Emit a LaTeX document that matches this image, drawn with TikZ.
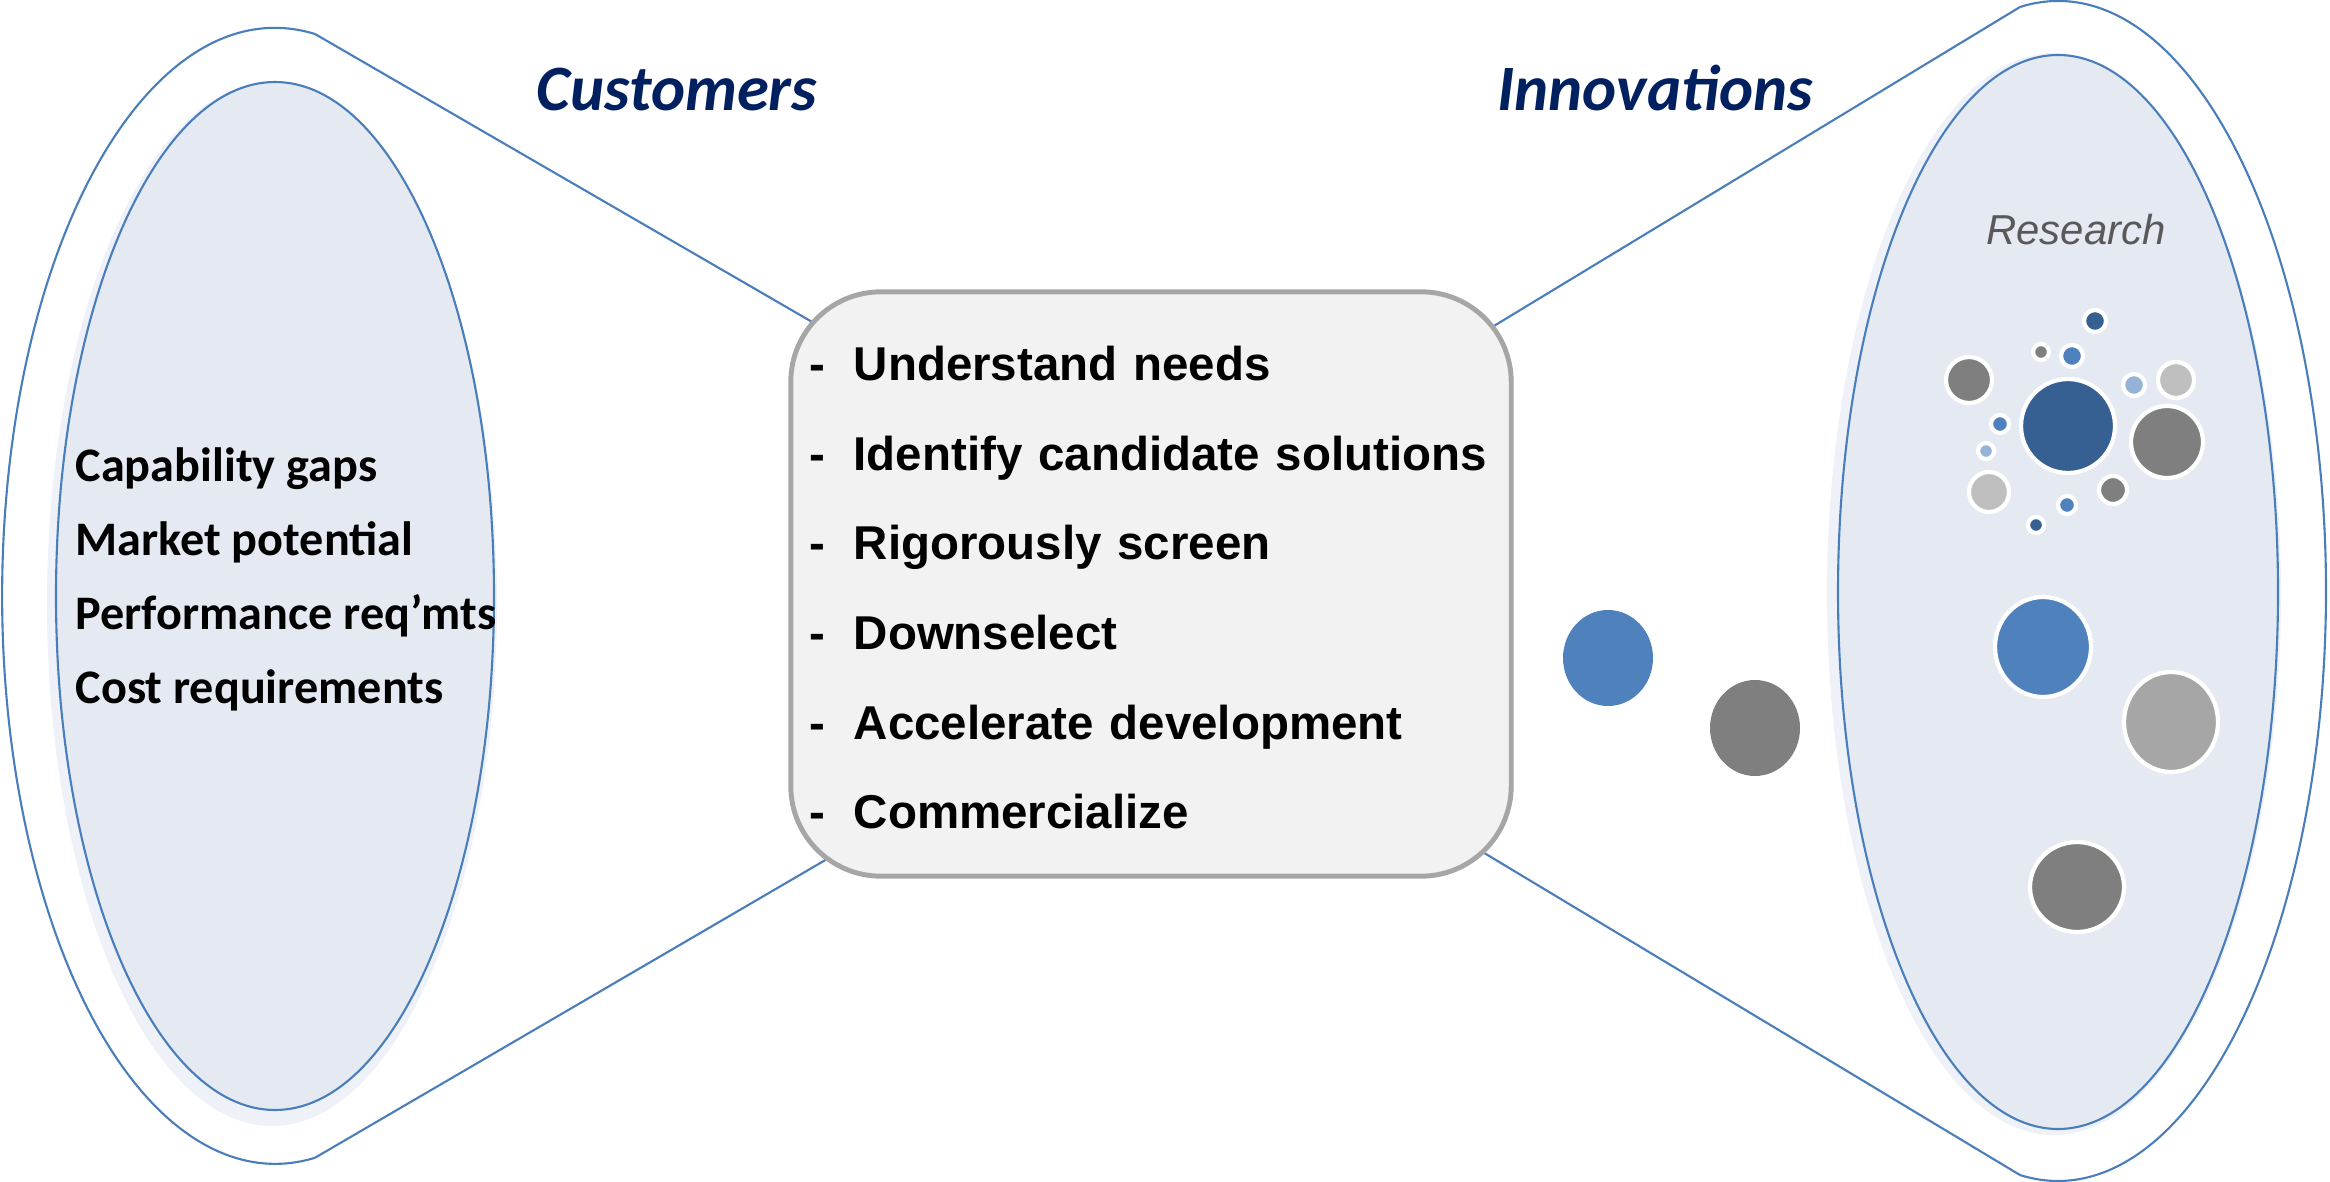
\documentclass[tikz,border=0pt]{standalone}
\usepackage{fontspec}
\setmainfont{Liberation Sans}
\newfontfamily\calibri{Carlito}
\usetikzlibrary{calc,backgrounds}

\definecolor{funnelblue}{HTML}{4A7EBB}
\definecolor{navy}{HTML}{002060}
\definecolor{ovalfill}{HTML}{E4E9F2}
\definecolor{ovalglow}{HTML}{EEF1F8}
\definecolor{boxfill}{HTML}{F2F2F2}
\definecolor{boxline}{HTML}{A6A6A6}
\definecolor{darkblue}{HTML}{376092}
\definecolor{midblue}{HTML}{4F81BD}
\definecolor{lightblue}{HTML}{95B3D7}
\definecolor{midgray}{HTML}{7F7F7F}
\definecolor{lightgray}{HTML}{BFBFBF}
\definecolor{silver}{HTML}{A6A6A6}
\definecolor{textgray}{HTML}{595959}

\tikzset{
  funnel/.style={draw=funnelblue, line width=0.6pt},
  oval/.style={draw=funnelblue, line width=0.6pt, fill=ovalfill},
  heading/.style={font=\calibri\bfseries\itshape\fontsize{18.4}{22}\selectfont, text=navy, inner sep=0},
  stepbox/.style={draw=boxline, fill=boxfill, line width=1.4pt, rounded corners=0.9cm,
    minimum height=5.84cm, text width=6.82cm, inner xsep=0.19cm, align=left,
    font=\bfseries\fontsize{13.5}{25.5}\selectfont},
  bubble/.style={fill=#1, draw=white, line width=1.2pt},
}
\newcommand{\stepline}[1]{\makebox[12.5pt][l]{-}#1}

\begin{document}
\begin{tikzpicture}[x=0.01cm, y=-0.01cm]
\useasboundingbox (0,0) rectangle (2330,1182);

\coordinate (cust) at (275,596);
\fill[ovalglow] ($(cust)+(-3,8)$) ellipse [x radius=225, y radius=522];
\draw[oval] (cust) ellipse [x radius=219, y radius=514];
\draw[funnel] (315,34) coordinate (custTop)
  arc [start angle=-81.6, end angle=-278.4, x radius=273, y radius=568] coordinate (custBot);

\coordinate (inno) at (2058,592);
\fill[ovalglow] ($(inno)+(-4,2)$) ellipse [x radius=227, y radius=541];
\draw[oval] (inno) ellipse [x radius=220, y radius=537];
\draw[funnel] (2020,7) coordinate (innoTop)
  arc [start angle=-98.15, end angle=98.15, x radius=268, y radius=590] coordinate (innoBot);

\node[stepbox] (steps) at (1151,584) {\rule{0pt}{11.8pt}\stepline{Understand needs}\\
  \stepline{Identify candidate solutions}\\
  \stepline{Rigorously screen}\\
  \stepline{Downselect}\\
  \stepline{Accelerate development}\\
  \stepline{Commercialize}};

\begin{scope}[on background layer]
\draw[funnel] (custTop) -- ($(steps.north west)+(40,42)$);
\draw[funnel] (custBot) -- ($(steps.south west)+(60,-32)$);
\draw[funnel] (innoTop) -- ($(steps.north east)+(-60,61)$);
\draw[funnel] (innoBot) -- ($(steps.south east)+(-60,-44)$);
\end{scope}

\node[heading, anchor=base] (custLabel) at (677,111) {Customers};
\node[heading, anchor=base] (innoLabel) at (1655,111) {Innovations};

\node[anchor=north west, inner sep=0, align=left,
  font=\calibri\bfseries\fontsize{13.7}{21}\selectfont] (needs) at (75,447)
  {Capability gaps\\Market potential\\Performance req’mts\\Cost requirements};

\node[anchor=base, inner sep=0, text=textgray,
  font=\itshape\fontsize{11.9}{14}\selectfont] (research) at (2076,245) {Research};

\foreach \x/\y/\r/\c in {2095/321/11/darkblue, 2041/352/8/midgray, 2072/356/11/midblue,
  1969/380/23/midgray, 2134/385/11/lightblue, 2176/380/18/lightgray, 2068/426/47/darkblue,
  2167/442/36/midgray, 2000/424/9/midblue, 1986/451/8/lightblue, 1989/492/20/lightgray,
  2113/490/14/midgray, 2067/505/9/midblue, 2036/525/8/darkblue}
  \draw[bubble=\c] (\x,\y) circle (\r);

\foreach \x/\y/\rx/\ry/\c in {2043/647/48/50/midblue, 2171/722/47/50/silver, 2077/887/47/45/midgray}
  \draw[bubble=\c] (\x,\y) ellipse [x radius=\rx, y radius=\ry];

\foreach \x/\y/\c in {1608/658/midblue, 1755/728/midgray}
  \fill[\c] (\x,\y) ellipse [x radius=45, y radius=48];

\end{tikzpicture}
\end{document}
